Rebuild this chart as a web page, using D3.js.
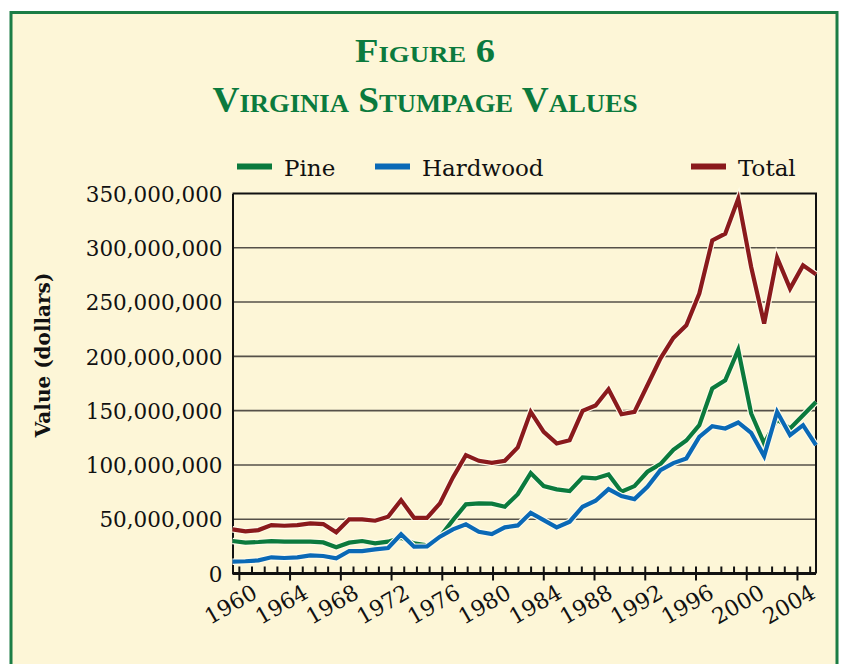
<!DOCTYPE html>
<html>
<head>
<meta charset="utf-8">
<script src="https://cdn.jsdelivr.net/npm/d3@7"></script>
<style>
  body { margin: 0; background: #ffffff; }
  svg { display: block; }
</style>
</head>
<body>
<div id="chart"></div>
<script>
// values in millions of dollars
var years = [1960, 1961, 1962, 1963, 1964, 1965, 1966, 1967, 1968, 1969, 1970, 1971,
  1972, 1973, 1974, 1975, 1976, 1977, 1978, 1979, 1980, 1981, 1982, 1983,
  1984, 1985, 1986, 1987, 1988, 1989, 1990, 1991, 1992, 1993, 1994, 1995,
  1996, 1997, 1998, 1999, 2000, 2001, 2002, 2003, 2004, 2005];

var pine = [29.9, 28.4, 29.0, 29.9, 29.4, 29.4, 29.4, 28.6, 24.1, 28.4, 29.9, 27.8,
  29.3, 32.9, 27.8, 25.9, 33.9, 49.2, 63.7, 64.6, 64.3, 61.5, 73.1, 92.5,
  80.5, 77.5, 75.9, 88.5, 87.6, 91.3, 75.3, 80.5, 93.7, 100.7, 114.0, 122.5,
  136.6, 170.4, 178.0, 206.0, 147.4, 119.8, 141.9, 133.6, 145.8, 158.0];

var hardwood = [10.9, 11.3, 12.1, 14.9, 14.3, 14.9, 16.7, 16.1, 14.0, 20.7, 20.7, 22.2,
  23.5, 36.1, 24.7, 24.9, 33.9, 40.7, 45.3, 38.5, 36.3, 42.5, 44.3, 55.9,
  49.2, 42.5, 47.7, 61.5, 67.0, 77.7, 71.3, 68.5, 79.9, 95.2, 101.7, 106.0,
  125.9, 135.7, 133.6, 139.1, 129.5, 108.1, 148.9, 127.4, 136.6, 118.2];

var total = [40.7, 38.8, 40.0, 44.6, 44.0, 44.6, 46.2, 45.5, 37.9, 49.9, 49.9, 48.6,
  52.3, 67.6, 51.3, 51.3, 64.6, 88.5, 109.0, 103.8, 101.9, 103.8, 116.1, 148.9,
  130.5, 119.8, 122.8, 149.8, 154.7, 169.7, 146.7, 148.9, 173.4, 198.0, 217.0, 228.6,
  257.8, 306.8, 313.0, 345.2, 282.3, 230.2, 290.9, 262.4, 283.8, 275.5];

var yTicks = [0, 50, 100, 150, 200, 250, 300, 350];
var labelYears = [1960, 1964, 1968, 1972, 1976, 1980, 1984, 1988, 1992, 1996, 2000, 2004];

var seriesNames = ['Pine', 'Hardwood', 'Total'];

var svgWidth = 843;
var svgHeight = 664;

var bg = '#fdf6d7';
var green = '#0b7a3d';
var blue = '#0a69b6';
var red = '#8a1a1c';

var plot = { left: 232.5, right: 816, top: 193.5, bottom: 573.5 };

var svg = d3.select('#chart')
  .append('svg')
  .attr('width', svgWidth)
  .attr('height', svgHeight);

// frame
svg.append('rect')
  .attr('x', 11)
  .attr('y', 12.5)
  .attr('width', 826)
  .attr('height', 700)
  .attr('fill', bg)
  .attr('stroke', '#1b7d45')
  .attr('stroke-width', 3);

// titles
svg.append('text')
  .attr('x', 425)
  .attr('y', 62)
  .attr('text-anchor', 'middle')
  .attr('font-family', 'Liberation Serif')
  .attr('font-size', 33)
  .attr('font-weight', 'bold')
  .style('font-variant', 'small-caps')
  .attr('fill', green)
  .attr('textLength', 140)
  .attr('lengthAdjust', 'spacingAndGlyphs')
  .text('Figure 6');

svg.append('text')
  .attr('x', 425)
  .attr('y', 112)
  .attr('text-anchor', 'middle')
  .attr('font-family', 'Liberation Serif')
  .attr('font-size', 35)
  .attr('font-weight', 'bold')
  .style('font-variant', 'small-caps')
  .attr('fill', green)
  .attr('textLength', 425)
  .attr('lengthAdjust', 'spacingAndGlyphs')
  .text('Virginia Stumpage Values');

// scales
var x = d3.scaleLinear()
  .domain([d3.min(years), d3.max(years)])
  .range([plot.left, plot.right]);

// tick marks sit half a year in from the frame
var xTickScale = d3.scaleLinear()
  .domain([d3.min(years) - 0.5, d3.max(years) + 0.5])
  .range([plot.left, plot.right]);

var y = d3.scaleLinear()
  .domain([0, 350])
  .range([plot.bottom, plot.top]);

// gridlines
svg.append('g')
  .selectAll('line')
  .data(yTicks.filter(d => d > 0 && d < 350))
  .enter()
  .append('line')
  .attr('x1', plot.left)
  .attr('x2', plot.right)
  .attr('y1', d => y(d))
  .attr('y2', d => y(d))
  .attr('stroke', '#555048')
  .attr('stroke-width', 1.6);

// top and right border
svg.append('path')
  .attr('d', `M${plot.left},${plot.top}H${plot.right}V${plot.bottom}`)
  .attr('fill', 'none')
  .attr('stroke', '#111')
  .attr('stroke-width', 2);

// y axis
var fmt = d3.format(',');
var leftAxis = d3.axisLeft(y)
  .tickValues(yTicks)
  .tickSize(0)
  .tickPadding(10)
  .tickFormat(d => fmt(d * 1000000));

var yAxisG = svg.append('g')
  .attr('transform', `translate(${plot.left}, 0)`)
  .call(leftAxis);
yAxisG.select('.domain').attr('stroke', '#111').attr('stroke-width', 2);
yAxisG.selectAll('text')
  .attr('font-family', 'DejaVu Serif')
  .attr('font-size', 21.5)
  .attr('fill', '#111')
  .attr('dy', '0.36em');

// y axis title
svg.append('text')
  .attr('transform', 'translate(50, 355) rotate(-90)')
  .attr('text-anchor', 'middle')
  .attr('font-family', 'DejaVu Serif')
  .attr('font-size', 20)
  .attr('font-weight', 'bold')
  .attr('fill', '#111')
  .text('Value (dollars)');

// lines
var line = d3.line()
  .x((d, i) => x(years[i]))
  .y(d => y(d));

var lineData = [
  { name: 'Pine', values: pine, color: green },
  { name: 'Hardwood', values: hardwood, color: blue },
  { name: 'Total', values: total, color: red }
];

var linesG = svg.append('g');
lineData.forEach(function(s) {
  linesG.append('path')
    .attr('d', line(s.values))
    .attr('fill', 'none')
    .attr('stroke', '#fffbe8')
    .attr('stroke-width', 6.5)
    .attr('stroke-linejoin', 'miter');
  linesG.append('path')
    .attr('d', line(s.values))
    .attr('fill', 'none')
    .attr('stroke', s.color)
    .attr('stroke-width', 4.2)
    .attr('stroke-linejoin', 'miter');
});

// x axis: minor ticks inward every year, labelled ticks also outward
var minorAxis = d3.axisBottom(xTickScale)
  .tickValues(years)
  .tickSize(-7)
  .tickFormat('');

var majorAxis = d3.axisBottom(xTickScale)
  .tickValues(labelYears)
  .tickSize(7)
  .tickPadding(4)
  .tickFormat(d3.format('d'));

var xMinorG = svg.append('g')
  .attr('transform', `translate(0, ${plot.bottom})`)
  .call(minorAxis);
xMinorG.selectAll('line').attr('stroke', '#111').attr('stroke-width', 2);
xMinorG.select('.domain').attr('stroke', '#111').attr('stroke-width', 3).attr('d', `M${plot.left},0H${plot.right}`);

var xMajorG = svg.append('g')
  .attr('transform', `translate(0, ${plot.bottom})`)
  .call(majorAxis);
xMajorG.select('.domain').remove();
xMajorG.selectAll('line').attr('stroke', '#111').attr('stroke-width', 2);
xMajorG.selectAll('text')
  .attr('font-family', 'DejaVu Serif')
  .attr('font-size', 22)
  .attr('fill', '#111')
  .attr('text-anchor', 'end')
  .attr('dy', 0)
  .attr('transform', 'translate(14, 14) rotate(-30)');

// legend
var legendX = { Pine: 237, Hardwood: 375, Total: 691 };
var legendColor = { Pine: green, Hardwood: blue, Total: red };
var legend = svg.append('g');
seriesNames.forEach(function(n) {
  legend.append('rect')
    .attr('x', legendX[n])
    .attr('y', 163.5)
    .attr('width', 35)
    .attr('height', 6)
    .attr('fill', legendColor[n]);
  legend.append('text')
    .attr('x', legendX[n] + 47)
    .attr('y', 176)
    .attr('font-family', 'DejaVu Serif')
    .attr('font-size', 23)
    .attr('fill', '#111')
    .text(n);
});
</script>
</body>
</html>
